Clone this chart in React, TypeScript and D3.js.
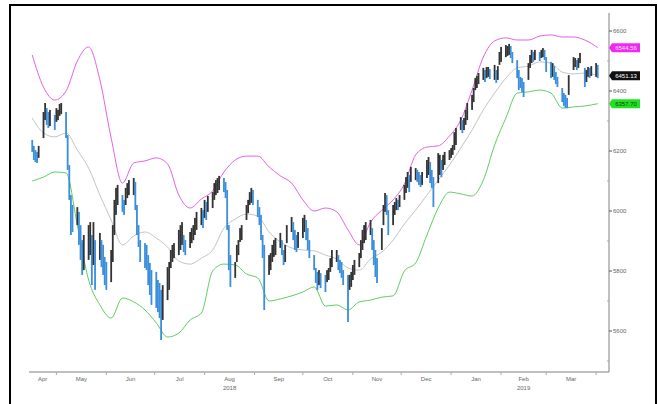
import React from 'react';
import * as d3 from 'd3';

// daily bar extents, one row per week (Mon..Fri), Apr 16 2018 -> Apr 2 2019
const highs = [
  6237, 6217, 6203, 6197, 6217,
  6330, 6360, 6343, 6330, 6337,
  6320, 6343, 6337, 6357, 6360,
  6330, 6253, 6153, 6053, 6020,
  6013, 5997, 5953, 5903, 5920,
  5953, 5963, 5920, 5963, 5903,
  5927, 5903, 5887, 5847, 5830,
  5870, 5953, 6037, 6077, 6087,
  6053, 6037, 6077, 6093, 6103,
  6110, 6097, 6020, 5953, 5903,
  5893, 5887, 5853, 5827, 5803,
  5797, 5770, 5760, 5737, 5753,
  5813, 5830, 5870, 5887, 5893,
  5937, 5953, 5963, 5920, 5903,
  5930, 5943, 5953, 5977, 5997,
  6010, 6003, 6037, 6030, 6050,
  6063, 6093, 6103, 6110, 6117,
  6110, 6097, 6070, 5953, 5853,
  5830, 5887, 5903, 5943, 5953,
  6020, 6037, 6063, 6077, 6070,
  6037, 6013, 5987, 5920, 5887,
  5853, 5860, 5887, 5903, 5910,
  5927, 5903, 5870, 5887, 5953,
  5980, 5963, 5937, 5920, 5930,
  5977, 5987, 5970, 5943, 5903,
  5853, 5810, 5797, 5803, 5793,
  5787, 5803, 5810, 5843, 5870,
  5870, 5853, 5837, 5830, 5803,
  5787, 5787, 5797, 5820, 5837,
  5860, 5903, 5937, 5953, 5963,
  5970, 5943, 5903, 5870, 5843,
  5943, 6020, 6060, 6053, 6003,
  6020, 6030, 6043, 6037, 6053,
  6087, 6113, 6130, 6120, 6147,
  6143, 6137, 6130, 6120, 6130,
  6170, 6180, 6163, 6137, 6113,
  6193, 6187, 6170, 6187, 6197,
  6203, 6210, 6220, 6263, 6277,
  6313, 6303, 6310, 6337, 6360,
  6387, 6410, 6443, 6450, 6460,
  6477, 6470, 6480, 6480, 6473,
  6487, 6470, 6483, 6530, 6547,
  6553, 6550, 6557, 6550, 6530,
  6503, 6470, 6447, 6443, 6430,
  6493, 6520, 6537, 6530, 6537,
  6530, 6537, 6543, 6537, 6513,
  6497, 6493, 6483, 6463, 6447,
  6410, 6393, 6387, 6377, 6453,
  6513, 6510, 6503, 6510, 6527,
  6477, 6470, 6480, 6477, 6483,
  6493, 6487,
];

const lows = [
  6197, 6170, 6163, 6160, 6177,
  6243, 6303, 6287, 6277, 6283,
  6270, 6297, 6303, 6317, 6323,
  6243, 6137, 6037, 5920, 5930,
  5953, 5887, 5837, 5787, 5803,
  5837, 5853, 5753, 5820, 5737,
  5837, 5813, 5787, 5753, 5737,
  5763, 5830, 5920, 5987, 6020,
  5997, 5987, 6020, 6043, 6053,
  6053, 6003, 5920, 5880, 5830,
  5810, 5803, 5753, 5720, 5687,
  5677, 5663, 5643, 5570, 5637,
  5703, 5737, 5810, 5830, 5843,
  5853, 5870, 5887, 5863, 5853,
  5877, 5893, 5903, 5920, 5937,
  5953, 5943, 5977, 5970, 5997,
  6010, 6037, 6053, 6060, 6070,
  6063, 6043, 5937, 5803, 5747,
  5777, 5830, 5853, 5897, 5903,
  5970, 5993, 6020, 6027, 6020,
  5980, 5953, 5903, 5843, 5670,
  5787, 5803, 5830, 5847, 5853,
  5877, 5853, 5820, 5830, 5893,
  5930, 5903, 5870, 5863, 5877,
  5910, 5930, 5903, 5870, 5843,
  5803, 5760, 5737, 5753, 5743,
  5730, 5763, 5770, 5797, 5813,
  5830, 5803, 5793, 5777, 5753,
  5630, 5737, 5747, 5770, 5787,
  5813, 5843, 5870, 5893, 5903,
  5920, 5870, 5820, 5780, 5760,
  5870, 5953, 5997, 5987, 5920,
  5953, 5987, 6003, 6003, 6013,
  6037, 6060, 6077, 6063, 6097,
  6103, 6097, 6087, 6080, 6087,
  6110, 6120, 6093, 6077, 6013,
  6093, 6120, 6113, 6137, 6153,
  6170, 6177, 6187, 6203, 6220,
  6270, 6260, 6270, 6287, 6303,
  6337, 6363, 6403, 6410, 6423,
  6437, 6430, 6443, 6447, 6440,
  6437, 6427, 6437, 6487, 6497,
  6513, 6517, 6520, 6510, 6493,
  6443, 6403, 6410, 6397, 6380,
  6437, 6477, 6493, 6497, 6503,
  6500, 6510, 6513, 6503, 6463,
  6443, 6447, 6437, 6423, 6413,
  6363, 6350, 6343, 6343, 6387,
  6470, 6480, 6470, 6477, 6493,
  6413, 6430, 6447, 6443, 6450,
  6447, 6443,
];

// bollinger bands, read once a week (Mondays, last = final bar)
const upperBand = [
  6520, 6413, 6370, 6400, 6500, 6547, 6437, 6243, 6093, 6160,
  6167, 6177, 6157, 6053, 6010, 6040, 6067, 6130, 6170, 6183,
  6183, 6147, 6117, 6093, 6037, 6000, 6010, 5997, 5937, 5887,
  5963, 6003, 6037, 6090, 6187, 6213, 6217, 6250, 6303, 6403,
  6513, 6567, 6577, 6570, 6570, 6583, 6587, 6580, 6580, 6570,
  6544.56,
];
const middleBand = [
  6310, 6260, 6247, 6260, 6203, 6143, 6053, 5970, 5887, 5917,
  5930, 5910, 5880, 5833, 5823, 5843, 5870, 5943, 5973, 5990,
  5983, 5930, 5897, 5877, 5870, 5867, 5853, 5840, 5810, 5803,
  5840, 5863, 5903, 5957, 6003, 6053, 6103, 6153, 6210, 6270,
  6337, 6393, 6443, 6477, 6483, 6497, 6493, 6463, 6457, 6460,
  6451.13,
];
const lowerBand = [
  6100, 6113, 6130, 6127, 5953, 5770, 5687, 5643, 5710, 5697,
  5670, 5627, 5580, 5593, 5637, 5660, 5800, 5823, 5820, 5790,
  5777, 5700, 5707, 5717, 5730, 5747, 5683, 5687, 5670, 5697,
  5703, 5713, 5717, 5800, 5827, 5920, 6010, 6063, 6057, 6050,
  6103, 6220, 6310, 6393, 6397, 6403, 6393, 6343, 6347, 6350,
  6357.70,
];

const yTicks = [5600, 5800, 6000, 6200, 6400, 6600];
const yMinorTicks = [5500, 5700, 5900, 6100, 6300, 6500];
const monthNames = ['Apr', 'May', 'Jun', 'Jul', 'Aug', 'Sep', 'Oct', 'Nov', 'Dec', 'Jan', 'Feb', 'Mar'];
const yearLabels = [
  { text: '2018', month: new Date(2018, 7, 1) },
  { text: '2019', month: new Date(2019, 1, 1) },
];

const FONT = '"Liberation Sans", Arial, sans-serif';

export default function App() {
  const days = d3.timeDay
    .range(new Date(2018, 3, 16), new Date(2019, 3, 3))
    .filter(d => d.getDay() !== 0 && d.getDay() !== 6);
  const mondays = d3.timeMonday.range(new Date(2018, 3, 16), new Date(2019, 3, 2));
  const bandDates = mondays.map((d, i) => (i === mondays.length - 1 ? days[days.length - 1] : d));

  const x = d3.scaleTime().domain([new Date(2018, 3, 14), new Date(2019, 3, 9)]).range([29, 609]);
  const y = d3.scaleLinear().domain([5600, 6600]).range([331, 31]);

  const line = (vals: number[]) =>
    d3.line<number>()
      .x((_, i) => x(bandDates[i]))
      .y(v => y(v))
      .curve(d3.curveMonotoneX)(vals) || '';

  const mids = highs.map((h, i) => (h + lows[i]) / 2);

  const monthStarts = d3.timeMonth.range(new Date(2018, 3, 1), new Date(2019, 3, 2));
  const [x0, x1] = x.range();

  const lastLabels = [
    { v: upperBand[upperBand.length - 1], fill: '#f028f0', color: '#ffe6ff' },
    { v: middleBand[middleBand.length - 1], fill: '#111111', color: '#ffffff' },
    { v: lowerBand[lowerBand.length - 1], fill: '#22e022', color: '#0a4a0a' },
  ];

  return (
    <svg width={658} height={404} style={{ position: 'absolute', left: 0, top: 0, background: '#fff' }}>
      <rect x={10} y={5} width={646} height={420} fill="#fff" stroke="#000" strokeWidth={2} />

      {/* bands */}
      <path d={line(middleBand)} fill="none" stroke="#bcbcbc" strokeWidth={0.9} />
      <path d={line(upperBand)} fill="none" stroke="#e050e0" strokeWidth={0.9} />
      <path d={line(lowerBand)} fill="none" stroke="#4cc84c" strokeWidth={0.9} />

      {/* bars */}
      {days.map((d, i) => {
        const up = i > 0 && mids[i] >= mids[i - 1];
        const top = y(highs[i]);
        const bot = y(lows[i]);
        return (
          <rect key={i} x={x(d) - 0.9} y={top} width={1.8} height={Math.max(1, bot - top)}
            fill={up ? '#333333' : '#3a8edc'} />
        );
      })}

      {/* axes */}
      <line x1={x0} x2={x1} y1={372} y2={372} stroke="#808080" strokeWidth={1} />
      <line x1={609} x2={609} y1={13} y2={372} stroke="#808080" strokeWidth={1} />

      {yTicks.map(t => (
        <g key={t}>
          <line x1={609} x2={612} y1={y(t)} y2={y(t)} stroke="#555" strokeWidth={1} />
          <text x={613} y={y(t) + 2} fontSize={6} fill="#666" fontFamily={FONT}>{t}</text>
        </g>
      ))}
      {yMinorTicks.map(t => (
        <line key={t} x1={607} x2={609} y1={y(t)} y2={y(t)} stroke="#aaa" strokeWidth={1} />
      ))}

      {monthStarts.slice(1).map((m, i) => (
        <line key={i} x1={x(m)} x2={x(m)} y1={372} y2={375} stroke="#aaa" strokeWidth={1} />
      ))}
      {monthStarts.map((m, i) => {
        const a = Math.max(x0, x(m));
        const b = x(d3.timeMonth.offset(m, 1));
        return (
          <text key={i} x={(a + b) / 2} y={381} fontSize={6} fill="#666" textAnchor="middle" fontFamily={FONT}>
            {monthNames[i]}
          </text>
        );
      })}
      {yearLabels.map(yl => (
        <text key={yl.text} x={(x(yl.month) + x(d3.timeMonth.offset(yl.month, 1))) / 2} y={390}
          fontSize={6} fill="#666" textAnchor="middle" fontFamily={FONT}>{yl.text}</text>
      ))}

      {/* last value tags */}
      {lastLabels.map((l, i) => {
        const cy = y(l.v);
        return (
          <g key={i}>
            <polygon points={`609,${cy} 612,${cy - 4.5} 640,${cy - 4.5} 640,${cy + 4.5} 612,${cy + 4.5}`} fill={l.fill} />
            <text x={626} y={cy + 2.2} fontSize={6} fill={l.color} textAnchor="middle" fontFamily={FONT}>
              {l.v.toFixed(2)}
            </text>
          </g>
        );
      })}
    </svg>
  );
}
